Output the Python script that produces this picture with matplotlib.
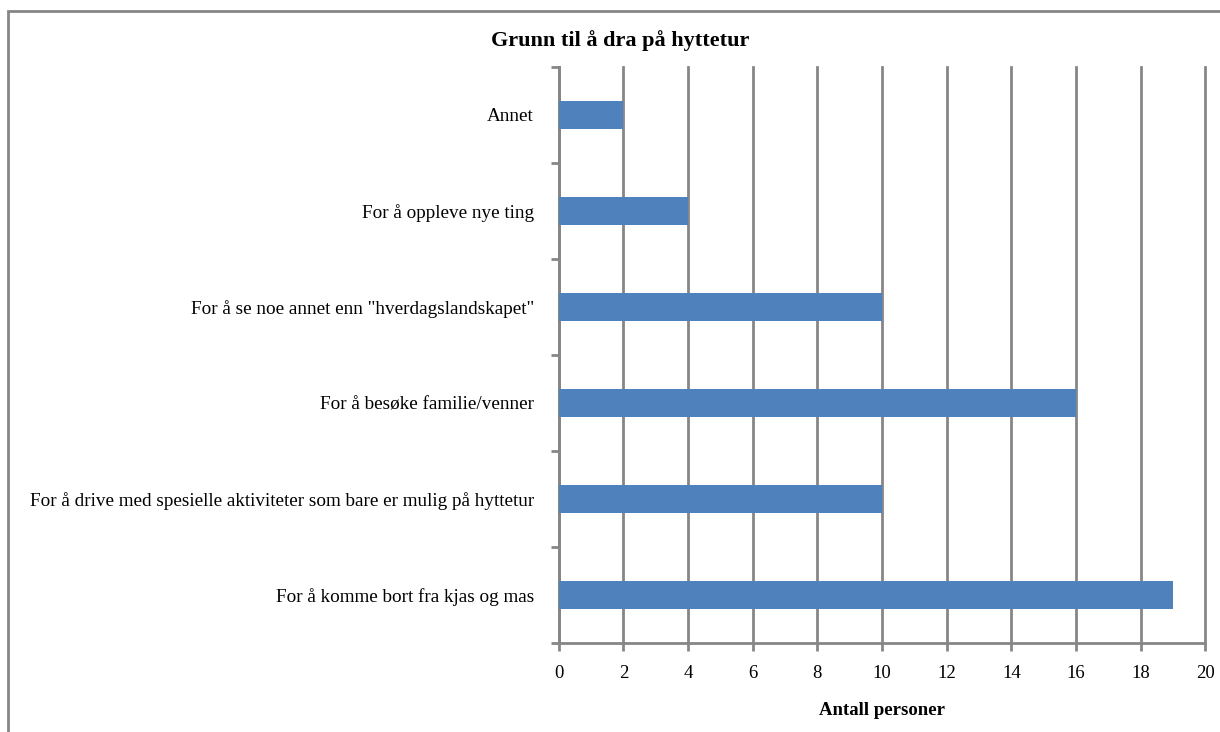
import matplotlib
matplotlib.use("Agg")
import matplotlib.pyplot as plt
from matplotlib.patches import Rectangle

# data, bottom to top as in the chart
categories = [
    "For å komme bort fra kjas og mas",
    "For å drive med spesielle aktiviteter som bare er mulig på hyttetur",
    "For å besøke familie/venner",
    'For å se noe annet enn "hverdagslandskapet"',
    "For å oppleve nye ting",
    "Annet",
]
counts = [19, 10, 16, 10, 4, 2]
xticks = list(range(0, 21, 2))

plt.rcParams['font.family'] = ['Liberation Serif', 'DejaVu Serif']

fig = plt.figure(figsize=(12.2, 7.32), dpi=100)
ax = fig.add_axes([0.458, 0.1216, 0.530, 0.787])

grey = '#868686'
ypos = range(len(categories))
ax.barh(ypos, counts, height=0.29, color='#4F81BD', zorder=3)

ax.set_xlim(0, 20)
ax.set_ylim(-0.5, len(categories) - 0.5)
ax.set_xticks(xticks)
ax.set_xticklabels([str(t) for t in xticks], fontsize=13.5)
ax.set_yticks(list(ypos))
ax.set_yticklabels(categories, fontsize=13.8)
ax.tick_params(axis='y', length=0, pad=18)
ax.tick_params(axis='x', length=6, width=2, color=grey, pad=10)

# category boundary ticks on the y axis
ax.set_yticks([i - 0.5 for i in range(len(categories) + 1)], minor=True)
ax.tick_params(axis='y', which='minor', length=6, width=2, color=grey)

ax.grid(axis='x', color=grey, linewidth=2, zorder=0)
for gl in ax.get_xgridlines():
    gl.set_clip_on(False)
for s in ['top', 'right']:
    ax.spines[s].set_visible(False)
for s in ['left', 'bottom']:
    ax.spines[s].set_color(grey)
    ax.spines[s].set_linewidth(2)

ax.set_xlabel("Antall personer", fontsize=13.5, fontweight='bold', labelpad=14)
fig.text(0.508, 0.945, "Grunn til å dra på hyttetur", ha='center', va='center',
         fontsize=16, fontweight='bold')

# outer chart frame
fig.patches.append(Rectangle((8 / 1220, -0.05), 1.1, 1 - 11 / 732 + 0.05,
                             transform=fig.transFigure, fill=False,
                             edgecolor=grey, linewidth=2))

fig.savefig("out.png", dpi=100)
